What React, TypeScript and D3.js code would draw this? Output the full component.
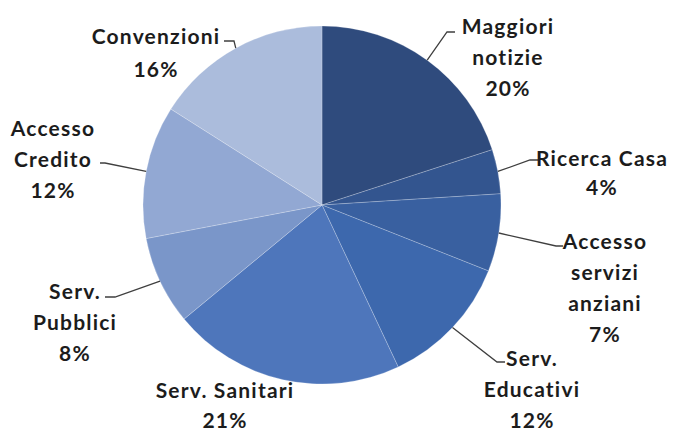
import * as d3 from "d3";

const categories = [
  "Maggiori notizie",
  "Ricerca Casa",
  "Accesso servizi anziani",
  "Serv. Educativi",
  "Serv. Sanitari",
  "Serv. Pubblici",
  "Accesso Credito",
  "Convenzioni",
];
const values = [20, 4, 7, 12, 21, 8, 12, 16];
const labelLines = [
  ["Maggiori", "notizie"],
  ["Ricerca Casa"],
  ["Accesso", "servizi", "anziani"],
  ["Serv.", "Educativi"],
  ["Serv. Sanitari"],
  ["Serv.", "Pubblici"],
  ["Accesso", "Credito"],
  ["Convenzioni"],
];
const colors = [
  "#2f4b7d",
  "#33558f",
  "#3960a0",
  "#3d68ad",
  "#4e76bb",
  "#7a96c9",
  "#92a8d3",
  "#abbcdc",
];

const width = 674;
const height = 430;
const cx = 322;
const cy = 205;
const radius = 179;

// label placement: text centre x, first line y, line gap, leader elbow + end (null = no leader)
const layout = [
  { x: 508, y: 25, gap: 31, elbow: [447, 32], end: [455, 32] },
  { x: 602, y: 157, gap: 29, elbow: [530, 160], end: [538, 160] },
  { x: 605, y: 240, gap: 31, elbow: [556, 246], end: [563, 246] },
  { x: 532, y: 357, gap: 31, elbow: [497, 362], end: [505, 362] },
  { x: 225, y: 389, gap: 30, elbow: null, end: null },
  { x: 75, y: 290, gap: 31, elbow: [115, 297], end: [105, 297] },
  { x: 53, y: 127, gap: 31, elbow: [105, 163], end: [100, 163] },
  { x: 156, y: 35, gap: 33, elbow: [234, 41], end: [224, 41] },
];

export default function App() {
  const pie = d3
    .pie<number>()
    .sort(null)
    .value((d) => d)
    .startAngle(0)
    .endAngle(2 * Math.PI);
  const arcs = pie(values);
  const arc = d3.arc<d3.PieArcDatum<number>>().innerRadius(0).outerRadius(radius);

  return (
    <svg
      width={width}
      height={height}
      style={{ position: "absolute", left: 0, top: 0, background: "#fff" }}
    >
      <g transform={`translate(${cx},${cy})`}>
        {arcs.map((a, i) => (
          <path
            key={categories[i]}
            d={arc(a) || ""}
            fill={colors[i]}
            stroke="rgba(255,255,255,0.22)"
            strokeWidth={1}
          />
        ))}
      </g>
      {arcs.map((a, i) => {
        const l = layout[i];
        if (!l.elbow || !l.end) return null;
        const mid = (a.startAngle + a.endAngle) / 2;
        const sx = cx + radius * Math.sin(mid);
        const sy = cy - radius * Math.cos(mid);
        const line = d3.line()([
          [sx, sy],
          l.elbow as [number, number],
          l.end as [number, number],
        ]);
        return (
          <path
            key={"l" + i}
            d={line || ""}
            fill="none"
            stroke="#3f3f3f"
            strokeWidth={1.3}
          />
        );
      })}
      {arcs.map((a, i) => {
        const l = layout[i];
        const lines = [...labelLines[i], `${values[i]}%`];
        return (
          <text
            key={"t" + i}
            textAnchor="middle"
            dominantBaseline="central"
            fontFamily="Lato, sans-serif"
            fontWeight="bold"
            fontSize={21}
            letterSpacing={1.2}
            fill="#1c1c1c"
          >
            {lines.map((s, j) => (
              <tspan key={j} x={l.x} y={l.y + j * l.gap}>
                {s}
              </tspan>
            ))}
          </text>
        );
      })}
    </svg>
  );
}
